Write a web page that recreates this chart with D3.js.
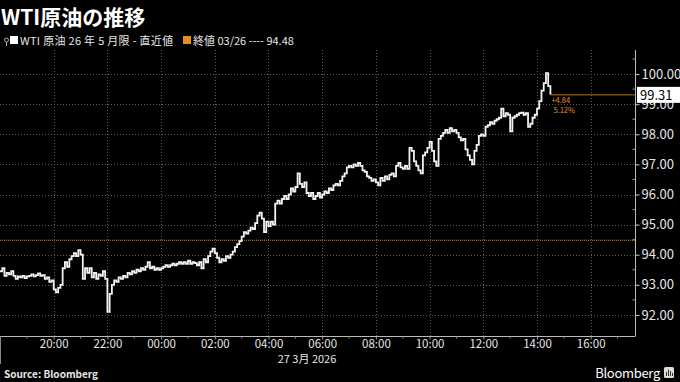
<!DOCTYPE html>
<html><head><meta charset="utf-8">
<script src="https://cdn.jsdelivr.net/npm/d3@7"></script>
<style>
html,body{margin:0;padding:0;background:#000;}
svg{display:block;}
text{font-family:"Noto Sans CJK JP","Noto Sans",sans-serif;}
</style></head>
<body>
<svg id="c" width="680" height="382"></svg>
<script>
// ---- data ----
const title = "WTI原油の推移";
const seriesName = "WTI 原油 26 年 5 月限 - 直近値";
const closeLabel = "終値 03/26 ---- 94.48";
const prevClose = 94.48;
const lastValue = 99.31;
const changeLabels = ["+4.84", "5.12%"];
const startTime = "2026-03-26T18:00:00";
const stepMinutes = 5;
const values = [
93.45,93.55,93.30,93.40,93.35,93.45,93.30,93.20,93.28,93.25,
93.30,93.22,93.28,93.30,93.35,93.28,93.32,93.38,93.30,93.32,
93.20,93.25,93.10,93.15,92.85,92.75,92.90,93.00,93.55,93.75,
93.60,93.85,93.95,94.05,93.95,94.15,94.00,93.20,93.55,93.40,
93.55,93.25,93.40,93.20,93.35,93.30,93.45,93.20,92.10,92.70,
93.00,93.15,93.10,93.25,93.20,93.30,93.25,93.40,93.35,93.45,
93.40,93.50,93.45,93.55,93.50,93.60,93.75,93.55,93.60,93.50,
93.55,93.50,93.55,93.60,93.65,93.60,93.65,93.70,93.65,93.70,
93.75,93.70,93.75,93.70,93.80,93.70,93.75,93.72,93.65,93.75,
93.55,93.85,93.75,93.95,94.10,94.20,94.05,93.90,93.75,93.85,
93.80,93.95,93.90,94.00,94.10,94.25,94.35,94.45,94.60,94.75,
94.70,94.80,94.90,94.85,95.05,95.30,95.40,95.20,94.75,95.10,
94.95,95.10,95.00,95.70,95.80,95.70,95.85,95.95,95.85,96.00,
96.20,96.10,96.25,96.70,96.35,96.25,96.40,96.05,95.95,96.05,
95.85,95.95,96.05,95.90,96.00,96.10,96.05,96.20,96.15,96.30,
96.35,96.30,96.45,96.60,96.70,96.90,96.95,96.90,97.00,96.95,
97.05,96.95,96.80,96.75,96.60,96.55,96.45,96.50,96.40,96.30,
96.55,96.45,96.60,96.50,96.65,96.70,96.60,96.95,97.05,96.90,
96.85,96.95,96.85,97.55,97.45,97.10,96.95,96.80,96.70,97.30,
97.40,97.55,97.75,97.45,97.10,96.95,97.85,97.95,98.05,98.15,
98.05,98.20,98.10,98.15,98.05,97.90,97.80,97.85,97.50,97.30,
97.15,97.00,97.45,97.65,97.95,98.00,97.95,98.25,98.30,98.40,
98.35,98.45,98.50,98.55,98.85,98.60,98.70,98.65,98.10,98.55,
98.60,98.65,98.70,98.72,98.65,98.70,98.25,98.35,98.55,98.65,
98.85,99.10,99.45,99.70,100.03,99.60,99.31
];
const xTickTimes = ["2026-03-26T20:00","2026-03-26T22:00","2026-03-27T00:00","2026-03-27T02:00","2026-03-27T04:00","2026-03-27T06:00","2026-03-27T08:00","2026-03-27T10:00","2026-03-27T12:00","2026-03-27T14:00","2026-03-27T16:00"];
const xTickLabels = ["20:00","22:00","00:00","02:00","04:00","06:00","08:00","10:00","12:00","14:00","16:00"];
const dateLabel = "27 3月 2026";
const yTicks = [92,93,94,95,96,97,98,99,100];
const sourceText = "Source: Bloomberg";

// ---- build ----
const parse = d3.isoParse;
const t0 = new Date(startTime);
const data = values.map((v,i)=>({t:new Date(t0.getTime()+i*stepMinutes*60000), v}));

const svg = d3.select("#c");
const W = 680, H = 382;
const pL = 0, pR = 635, pT = 50, pB = 336;

const x = d3.scaleTime()
  .domain([new Date("2026-03-26T18:00:00"), new Date("2026-03-27T17:39:00")])
  .range([pL, pR]);
const y = d3.scaleLinear().domain([91.3, 100.8]).range([pB, pT]);

const gridColor = "#5a5a5a";
const textColor = "#e6e6e6";
const orange = "#e8901f";

// title
svg.append("text").attr("x",1).attr("y",25)
  .attr("fill","#fff").attr("font-size",21).attr("font-weight",700)
  .text(title);

// legend
const lg = svg.append("g").attr("transform","translate(0,45)");
lg.append("circle").attr("cx",6.5).attr("cy",-5).attr("r",2).attr("fill","none").attr("stroke","#aaa").attr("stroke-width",1);
lg.append("line").attr("x1",6.5).attr("x2",6.5).attr("y1",-3).attr("y2",1).attr("stroke","#aaa");
lg.append("rect").attr("x",10).attr("y",-9).attr("width",8).attr("height",8).attr("fill","#fff");
lg.append("text").attr("x",20).attr("y",0).attr("fill",textColor).attr("font-size",11).attr("letter-spacing",0.3).text(seriesName);
lg.append("rect").attr("x",183).attr("y",-9).attr("width",8).attr("height",8).attr("fill",orange);
lg.append("text").attr("x",193).attr("y",0).attr("fill",textColor).attr("font-size",11).text(closeLabel);

// grid
const grid = svg.append("g");
grid.selectAll(".hg").data(yTicks).join("line")
  .attr("x1",pL).attr("x2",pR)
  .attr("y1",d=>Math.round(y(d))+0.5).attr("y2",d=>Math.round(y(d))+0.5)
  .attr("stroke",gridColor).attr("stroke-dasharray","1,2");
grid.selectAll(".vg").data(xTickTimes).join("line")
  .attr("x1",d=>Math.round(x(parse(d)))+0.5).attr("x2",d=>Math.round(x(parse(d)))+0.5)
  .attr("y1",pT).attr("y2",pB)
  .attr("stroke",gridColor).attr("stroke-dasharray","1,2");

// prev close line
svg.append("line").attr("x1",pL).attr("x2",pR)
  .attr("y1",y(prevClose)).attr("y2",y(prevClose))
  .attr("stroke",orange).attr("stroke-width",1).attr("stroke-dasharray","1,1");

// right axis
const yAxis = d3.axisRight(y).tickValues(yTicks).tickSize(4).tickPadding(2).tickFormat(d3.format(".2f"));
const ya = svg.append("g").attr("transform",`translate(${pR+0.5},0)`).call(yAxis);
ya.select(".domain").attr("stroke","#bbb").attr("d",`M0,${pT}V${pB}`);
ya.selectAll(".tick line").attr("stroke","#ccc");
ya.selectAll(".tick text").attr("fill",textColor).attr("font-size",13)
  .attr("font-family","'Liberation Sans',Arial,sans-serif");
// minor y ticks
const minorY = yTicks.map(d=>d+0.5).filter(d=>y(d)>pT);
ya.selectAll(".mt").data(minorY).join("line")
  .attr("x1",-3).attr("x2",0).attr("y1",d=>y(d)).attr("y2",d=>y(d)).attr("stroke","#999");

// bottom axis
const xAxis = d3.axisBottom(x).tickValues(xTickTimes.map(d=>parse(d))).tickSize(3).tickPadding(0)
  .tickFormat((d,i)=>xTickLabels[i]);
const xa = svg.append("g").attr("transform",`translate(0,${pB+0.5})`).call(xAxis);
xa.select(".domain").attr("stroke","#bbb").attr("d",`M${pL},0H${pR+0.5}`);
xa.selectAll(".tick line").attr("stroke","#999");
xa.selectAll(".tick text").attr("fill",textColor).attr("font-size",11.5)
  .attr("font-family","'Liberation Sans',Arial,sans-serif");
// minor x ticks (odd hours)
const minorX = xTickTimes.map(d=>new Date(parse(d).getTime()-3600000)).concat([new Date(parse(xTickTimes[xTickTimes.length-1]).getTime()+3600000)]);
xa.selectAll(".mx").data(minorX).join("line")
  .attr("x1",d=>x(d)).attr("x2",d=>x(d)).attr("y1",0).attr("y2",2).attr("stroke","#888");
// left edge line
svg.append("line").attr("x1",0.5).attr("x2",0.5).attr("y1",pB).attr("y2",364).attr("stroke","#888");

svg.append("text").attr("x",307).attr("y",363).attr("text-anchor","middle")
  .attr("fill",textColor).attr("font-size",11).attr("font-family","'Liberation Sans','Noto Sans CJK JP',sans-serif").text(dateLabel);

// series line
const line = d3.line().x(d=>x(d.t)).y(d=>y(d.v)).curve(d3.curveStepAfter);
svg.append("path").datum(data).attr("d",line)
  .attr("fill","none").attr("stroke","#f2f2f2").attr("stroke-width",1.8).attr("stroke-linejoin","miter");

// last value connector
const last = data[data.length-1];
svg.append("line").attr("x1",x(last.t)).attr("x2",pR)
  .attr("y1",y(lastValue)).attr("y2",y(lastValue))
  .attr("stroke","#b86e14").attr("stroke-width",1);
svg.append("text").attr("x",x(last.t)+1).attr("y",y(lastValue)+8)
  .attr("fill",orange).attr("font-size",7.5).attr("font-family","'Liberation Sans',Arial,sans-serif").text(changeLabels[0]);
svg.append("text").attr("x",x(last.t)+3).attr("y",y(lastValue)+18)
  .attr("fill",orange).attr("font-size",7.5).attr("font-family","'Liberation Sans',Arial,sans-serif").text(changeLabels[1]);

// last value box
svg.append("rect").attr("x",pR+2).attr("y",y(lastValue)-8).attr("width",W-pR-2).attr("height",16).attr("fill","#fff");
svg.append("text").attr("x",pR+5).attr("y",y(lastValue)+5)
  .attr("fill","#000").attr("font-size",13).attr("font-family","'Liberation Sans',Arial,sans-serif")
  .text(d3.format(".2f")(lastValue));

// footer
svg.append("text").attr("x",4).attr("y",378).attr("fill",textColor)
  .attr("font-size",10).attr("font-weight",700).attr("font-family","'DejaVu Sans Mono',monospace").text(sourceText);
svg.append("text").attr("x",660).attr("y",378).attr("text-anchor","end").attr("fill","#fff")
  .attr("font-size",13).attr("font-family","'Liberation Sans',Arial,sans-serif").attr("letter-spacing",-0.3).text("Bloomberg");
svg.append("rect").attr("x",664).attr("y",367).attr("width",10).attr("height",11).attr("rx",1.5).attr("fill","#ddd");
svg.append("path").attr("d","M666.5,376V372M668.5,376V369.5M670.5,376V371M672.5,376V373").attr("stroke","#333").attr("stroke-width",1);
</script>
</body></html>
